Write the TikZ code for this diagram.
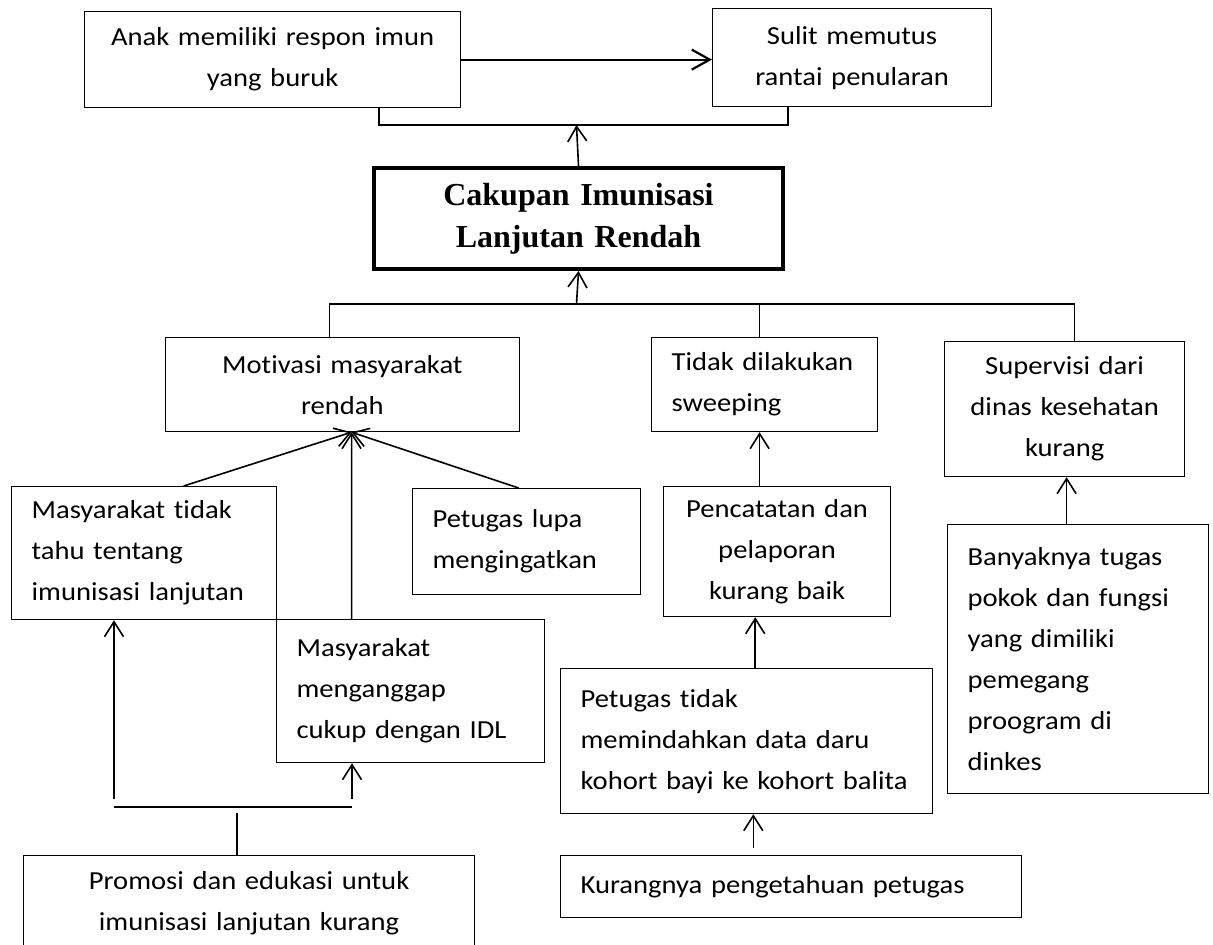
\documentclass[tikz,border=0pt]{standalone}
\usepackage{fontspec}
\newfontfamily\calibri{Carlito}[FakeStretch=1.10, Ligatures=NoCommon]
\newfontfamily\timesfont{Liberation Serif}
\usetikzlibrary{arrows.meta}

\begin{document}
\begin{tikzpicture}[
    x=0.5pt, y=-0.5pt,
    box/.style      = {draw, line width=0.6pt, anchor=north west, inner xsep=10pt, inner ysep=0pt,
                       font=\calibri\fontsize{13pt}{20.5pt}\selectfont, align=left},
    cbox/.style     = {box, align=center},
    mainbox/.style  = {draw, line width=2pt, anchor=north west, inner xsep=10pt, inner ysep=0pt, align=center,
                       font=\timesfont\bfseries\fontsize{16pt}{21pt}\selectfont},
    arrow/.style    = {-{Straight Barb[length=7.5pt, width=9.5pt]}, line width=0.8pt},
    bigarrow/.style = {-{Straight Barb[length=9pt, width=10pt]}, line width=1.1pt},
    link/.style     = {line width=0.7pt},
    thicklink/.style = {line width=1.1pt}
]
\clip (0,0) rectangle (1213,944);
\node[cbox, text width=168pt, minimum height=48pt]      (anak)        at (84,11)    {Anak memiliki respon imun\\yang buruk};
\node[cbox, text width=119.5pt, minimum height=49pt]    (sulit)       at (712,8)    {Sulit memutus\\rantai penularan};
\node[mainbox, text width=184.5pt, minimum height=50.5pt] (cakupan)   at (372,166)  {Cakupan Imunisasi\\Lanjutan Rendah};
\node[cbox, text width=157.25pt, minimum height=47pt]   (motivasi)    at (164.5,337) {Motivasi masyarakat\\rendah};
\node[box, text width=93pt, minimum height=47pt]        (sweeping)    at (651,337)  {Tidak dilakukan\\sweeping};
\node[cbox, text width=100pt, minimum height=67.5pt]    (supervisi)   at (944,341)  {Supervisi dari\\dinas kesehatan\\kurang};
\node[box, text width=112.5pt, minimum height=66.5pt]   (tahu)        at (11,486)   {Masyarakat tidak\\tahu tentang\\imunisasi lanjutan};
\node[box, text width=94pt, minimum height=53pt]        (lupa)        at (412,488)  {Petugas lupa\\mengingatkan};
\node[cbox, text width=93.5pt, minimum height=65pt]     (pencatatan)  at (663,486)  {Pencatatan dan\\pelaporan\\kurang baik};
\node[box, text width=110.5pt, minimum height=134.5pt]  (tupoksi)     at (947,524)  {Banyaknya tugas\\pokok dan fungsi\\yang dimiliki\\pemegang\\proogram di\\dinkes};
\node[box, text width=114pt, minimum height=71.5pt]     (idl)         at (276,619)  {Masyarakat\\menganggap\\cukup dengan IDL};
\node[box, text width=166pt, minimum height=72.5pt]     (kohort)      at (560,668)  {Petugas tidak\\memindahkan data daru\\kohort bayi ke kohort balita};
\node[box, text width=210.5pt, minimum height=31pt]     (pengetahuan) at (560,855)  {Kurangnya pengetahuan petugas};
\node[cbox, text width=205.5pt, minimum height=48pt]    (promosi)     at (23,855)   {Promosi dan edukasi untuk\\imunisasi lanjutan kurang};
\coordinate (topjoin) at (576.5,125);
\coordinate (midbus)  at (576.5,304);
\coordinate (mtip)    at ([xshift=4.6pt]motivasi.south);
\coordinate (barL)    at (114,807);
\coordinate (barR)    at (352,807);
\coordinate (barstem) at (237,813);
% top
\draw[bigarrow] (anak.east) -- (anak.east -| sulit.west);
\draw[thicklink] ([xshift=-41pt]anak.south east) |- (topjoin) -| ([xshift=38pt]sulit.south west);
\draw[arrow] (cakupan.north) -- (topjoin);
% causes
\draw[arrow] (midbus) -- (cakupan.south);
\draw[link] ([xshift=-6.4pt]motivasi.north) |- (midbus) -| ([xshift=5pt]supervisi.north);
\draw[link] ([xshift=-2.5pt]sweeping.north) -- ([xshift=-2.5pt]sweeping.north |- midbus);
\foreach \n/\s in {tahu/19.75pt, idl/-29.5pt, lupa/-4pt}
  \draw[arrow] ([xshift=\s]\n.north) -- (mtip);
\draw[thicklink] (barL) -- (barR);
\draw[arrow] ([yshift=4pt]barL) -- (barL |- tahu.south);
\draw[arrow] ([yshift=4pt]barR) -- (barR |- idl.south);
\draw[link] (promosi.north -| barstem) -- (barstem);
\draw[arrow] ([xshift=-8.75pt]pencatatan.north) -- ([xshift=-8.75pt]pencatatan.north |- sweeping.south);
\draw[arrow] ([xshift=4.3pt]kohort.north) -- ([xshift=4.3pt]kohort.north |- pencatatan.south);
\draw[arrow] ([xshift=-18.9pt, yshift=3.5pt]pengetahuan.north) -- ([xshift=-18.9pt]pengetahuan.north |- kohort.south);
\draw[arrow] ([xshift=-5.75pt]tupoksi.north) -- ([xshift=-5.75pt]tupoksi.north |- supervisi.south);
\end{tikzpicture}
\end{document}
